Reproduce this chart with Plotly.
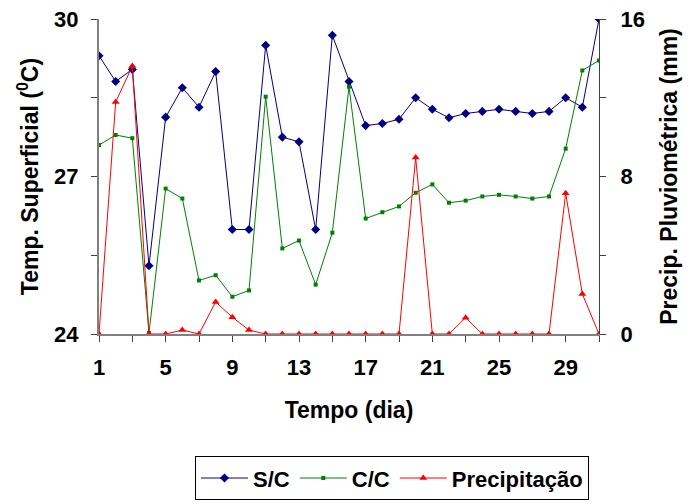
import plotly.graph_objects as go

days = list(range(1, 32))
sc = [29.30, 28.81, 29.04, 25.30, 28.13, 28.69, 28.32, 29.00, 25.99, 25.99,
      29.50, 27.75, 27.66, 25.99, 29.69, 28.81, 27.97, 28.01, 28.09, 28.50,
      28.28, 28.12, 28.20, 28.24, 28.28, 28.24, 28.20, 28.24, 28.50, 28.32, 30.00]
cc = [27.60, 27.79, 27.73, 24.02, 26.77, 26.58, 25.02, 25.12, 24.71, 24.83,
      28.52, 25.63, 25.78, 24.94, 25.93, 28.71, 26.20, 26.32, 26.43, 26.69,
      26.85, 26.50, 26.54, 26.62, 26.65, 26.62, 26.58, 26.62, 27.53, 29.02, 29.21]
precip = [0, 11.78, 13.61, 0, 0, 0.2, 0, 1.63, 0.85, 0.2,
          0, 0, 0, 0, 0, 0, 0, 0, 0, 8.96,
          0, 0, 0.83, 0, 0, 0, 0, 0, 7.15, 2.03, 0]

x_tickvals = list(range(1, 32, 2))
x_ticktext = ["1", "", "5", "", "9", "", "13", "", "17", "", "21", "", "25", "", "29", ""]
y_tickvals = [24, 25.5, 27, 28.5, 30]
y_ticktext = ["24", "", "27", "", "30"]
y2_tickvals = [0, 4, 8, 12, 16]
y2_ticktext = ["0", "", "8", "", "16"]

font_family = "Liberation Sans, Arial, sans-serif"
FS = 22
TS = 23

fig = go.Figure()
fig.add_trace(go.Scatter(x=days, y=sc, name="S/C", mode="lines+markers",
                         line=dict(color="#000080", width=1),
                         marker=dict(symbol="diamond", size=7, color="#000080")))
fig.add_trace(go.Scatter(x=days, y=cc, name="C/C", mode="lines+markers",
                         line=dict(color="#008000", width=1),
                         marker=dict(symbol="square", size=4, color="#008000")))
fig.add_trace(go.Scatter(x=days, y=precip, name="Precipitação", mode="lines+markers",
                         yaxis="y2",
                         line=dict(color="#FF0000", width=1),
                         marker=dict(symbol="triangle-up", size=7, color="#FF0000")))

fig.update_layout(
    width=691, height=504,
    margin=dict(l=99, r=92, t=19, b=170, autoexpand=False),
    paper_bgcolor="white", plot_bgcolor="white",
    font=dict(family=font_family, size=FS, color="black"),
    showlegend=True,
    legend=dict(orientation="h", x=0.192, y=-0.388, xanchor="left", yanchor="top",
                bordercolor="black", borderwidth=1, bgcolor="white",
                font=dict(size=22, family=font_family, weight="bold"),
                itemwidth=47, tracegroupgap=0),
    xaxis=dict(range=[1, 31], tickmode="array", tickvals=x_tickvals, ticktext=x_ticktext,
               showgrid=False, zeroline=False, showline=True, linecolor="#808080", linewidth=2,
               ticks="outside", ticklen=6, tickcolor="#404040", ticklabelstandoff=7,
               automargin=False,
               tickfont=dict(size=FS, weight="bold"),
               title=dict(text="Tempo (dia)", font=dict(size=TS, weight="bold"), standoff=22)),
    yaxis=dict(range=[24, 30], tickmode="array", tickvals=y_tickvals, ticktext=y_ticktext,
               showgrid=False, zeroline=False, showline=True, linecolor="#808080", linewidth=2,
               ticks="outside", ticklen=6, tickcolor="#404040", ticklabelstandoff=8,
               automargin=False,
               tickfont=dict(size=FS, weight="bold"),
               title=dict(text="Temp. Superficial (<sup>0</sup>C)", font=dict(size=TS, weight="bold"), standoff=9)),
    yaxis2=dict(range=[0, 16], overlaying="y", side="right", tickmode="array",
                tickvals=y2_tickvals, ticktext=y2_ticktext,
                showgrid=False, zeroline=False, showline=True, linecolor="#404040", linewidth=1,
                ticks="outside", ticklen=6, tickcolor="#404040", ticklabelstandoff=10,
                automargin=False,
                tickfont=dict(size=FS, weight="bold"),
                title=dict(text="Precip. Pluviométrica (mm)", font=dict(size=TS, weight="bold"), standoff=17)),
)

fig.write_html("out.html")
